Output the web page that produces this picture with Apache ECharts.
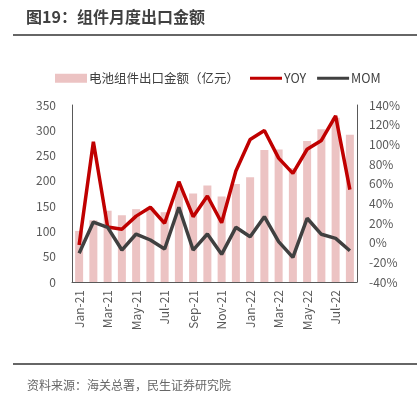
<!DOCTYPE html>
<html><head><meta charset="utf-8">
<script src="https://cdn.jsdelivr.net/npm/echarts@6/dist/echarts.min.js"></script>
<style>html,body{margin:0;padding:0;background:#fff}#c{width:417px;height:393px}</style>
</head><body><div id="c"></div>
<script>
const categories = ['Jan-21','Feb-21','Mar-21','Apr-21','May-21','Jun-21','Jul-21','Aug-21','Sep-21','Oct-21','Nov-21','Dec-21','Jan-22','Feb-22','Mar-22','Apr-22','May-22','Jun-22','Jul-22','Aug-22'];
const exportValue = [101,122,141,132,144,147,138,185,175,191,169,194,207,261,262,225,279,302,325,291];
const yoy = [-2.4,102.7,16,13.6,27,36,19.7,62,26.4,47.5,20.3,72.9,105,114,86,70.5,95,104,129,54];
const mom = [-10.8,21,15.6,-7.5,8.8,2.7,-6.4,36,-7.5,8.8,-11.9,15.6,6.1,26.4,1,-14.9,24.8,8.5,4.4,-8.2];
const leftTicks = [0,350,50];
const rightTicks = [-40,140,20];

const FONT = '"Noto Sans CJK SC", "Noto Sans", sans-serif';
const LINE_ICON = 'path://M0,0H32V3H0Z';
const chart = echarts.init(document.getElementById('c'));
chart.setOption({
  animation: false,
  textStyle: {fontFamily: FONT},
  title: [
    {text: '图19：组件月度出口金额', left: 21, top: 4, textStyle: {fontSize: 16, fontWeight: 'bold', color: '#404040', fontFamily: FONT}},
    {text: '资料来源：海关总署，民生证券研究院', left: 22, top: 374, textStyle: {fontSize: 12, fontWeight: 'normal', color: '#666', fontFamily: FONT}}
  ],
  graphic: [
    {type: 'line', shape: {x1: 13, y1: 35, x2: 417, y2: 35}, style: {stroke: '#666', lineWidth: 2}},
    {type: 'line', shape: {x1: 13, y1: 364, x2: 417, y2: 364}, style: {stroke: '#666', lineWidth: 2}}
  ],
  legend: {
    top: 67, left: 50, itemGap: 11, itemWidth: 32, itemHeight: 9,
    textStyle: {fontSize: 12.5, color: '#404040', fontFamily: FONT, padding: [0,0,0,-3]},
    data: [
      {name: '电池组件出口金额（亿元）', icon: 'rect'},
      {name: 'YOY', icon: LINE_ICON, itemStyle: {color: '#c00000'}},
      {name: 'MOM', icon: LINE_ICON, itemStyle: {color: '#404040'}}
    ]
  },
  grid: {left: 72, right: 60, top: 105, bottom: 111},
  xAxis: {
    type: 'category', data: categories, boundaryGap: true,
    axisLine: {lineStyle: {color: '#595959'}},
    axisTick: {interval: 1, length: 5, lineStyle: {color: '#595959'}},
    axisLabel: {interval: 1, rotate: 90, fontSize: 12, color: '#595959', margin: 8, fontFamily: FONT}
  },
  yAxis: [
    {type: 'value', min: leftTicks[0], max: leftTicks[1], interval: leftTicks[2],
     splitLine: {show: false}, axisLine: {show: true, lineStyle: {color: '#595959'}}, axisTick: {show: false},
     axisLabel: {fontSize: 12, color: '#595959', margin: 16, fontFamily: FONT}},
    {type: 'value', min: rightTicks[0], max: rightTicks[1], interval: rightTicks[2],
     splitLine: {show: false}, axisLine: {show: true, lineStyle: {color: '#595959'}}, axisTick: {show: false},
     axisLabel: {fontSize: 12, color: '#595959', margin: 12, formatter: '{value}%', fontFamily: FONT}}
  ],
  series: [
    {name: '电池组件出口金额（亿元）', type: 'bar', data: exportValue, barWidth: 8, itemStyle: {color: '#ecc3c3'}},
    {name: 'YOY', type: 'line', yAxisIndex: 1, data: yoy, symbol: 'none', lineStyle: {color: '#c00000', width: 3.5}, itemStyle: {color: '#c00000'}},
    {name: 'MOM', type: 'line', yAxisIndex: 1, data: mom, symbol: 'none', lineStyle: {color: '#404040', width: 3.5}, itemStyle: {color: '#404040'}}
  ]
});
</script></body></html>
